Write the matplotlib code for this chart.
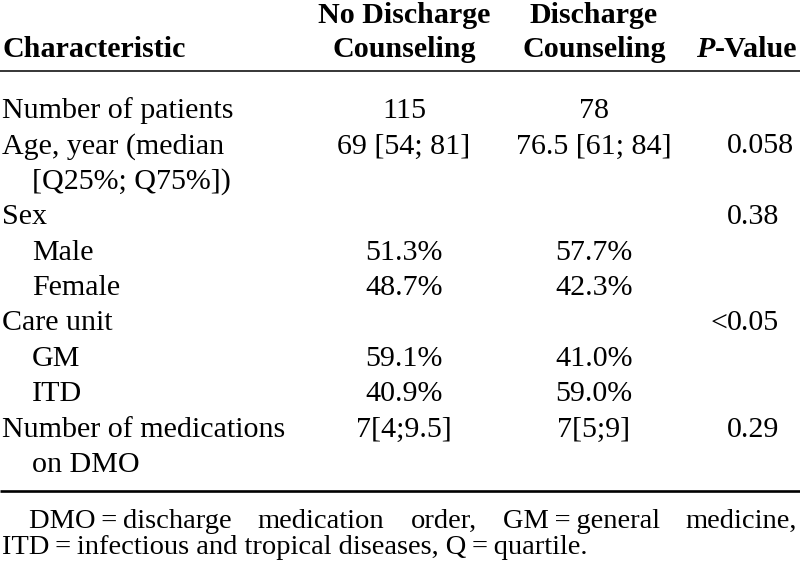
import matplotlib
matplotlib.use("Agg")
import matplotlib.pyplot as plt

plt.rcParams['font.family'] = ['Liberation Serif', 'DejaVu Serif']

# ---- table content ----
header_char = "Characteristic"
header_col1 = ["No Discharge", "Counseling"]
header_col2 = ["Discharge", "Counseling"]
header_p_italic = "P"
header_p_rest = "-Value"

row_labels = ["Number of patients", "Age, year (median", "[Q25%; Q75%])", "Sex",
              "Male", "Female", "Care unit", "GM", "ITD",
              "Number of medications", "on DMO"]
row_indent = [0, 0, 1, 0, 1, 1, 0, 1, 1, 0, 1]
no_counseling = ["115", "69 [54; 81]", "", "", "51.3%", "48.7%", "", "59.1%", "40.9%", "7[4;9.5]", ""]
counseling = ["78", "76.5 [61; 84]", "", "", "57.7%", "42.3%", "", "41.0%", "59.0%", "7[5;9]", ""]
p_values = ["", "0.058", "", "0.38", "", "", "<0.05", "", "", "0.29", ""]

footnote_line1 = ["DMO\u2009=\u2009discharge", "medication", "order,", "GM\u2009=\u2009general", "medicine,"]
footnote_line2 = "ITD\u2009=\u2009infectious and tropical diseases, Q\u2009=\u2009quartile."

# ---- layout (pixel coordinates) ----
W, H = 800, 570
FS = 21.6
FS_NOTE = 20.5
X_LABEL, X_INDENT = 2, 32
X_C1, X_C2 = 404, 594
X_P, X_PR = 727, 797
Y_H1, Y_H2 = 23, 57
Y_RULE1, Y_RULE2 = 70.5, 491
Y_ROW0, DY = 118, 35.4
Y_N1, Y_N2 = 528, 554
X_N1L, X_N2L = 29, 2

fig = plt.figure(figsize=(W / 100, H / 100), dpi=100)
fig.patch.set_facecolor("white")
ax = fig.add_axes([0, 0, 1, 1])
ax.set_xlim(0, W)
ax.set_ylim(H, 0)
ax.axis("off")
renderer = fig.canvas.get_renderer()

def txt(x, y, s, ha="left", **kw):
    kw.setdefault("fontsize", FS)
    return ax.text(x, y, s, ha=ha, va="baseline", color="black", **kw)

# header
txt(X_LABEL, Y_H2, header_char, fontweight="bold")
txt(X_C1, Y_H1, header_col1[0], ha="center", fontweight="bold")
txt(X_C1, Y_H2, header_col1[1], ha="center", fontweight="bold")
txt(X_C2, Y_H1, header_col2[0], ha="center", fontweight="bold")
txt(X_C2, Y_H2, header_col2[1], ha="center", fontweight="bold")
t_rest = txt(X_PR, Y_H2, header_p_rest, ha="right", fontweight="bold")
w_rest = t_rest.get_window_extent(renderer).width
txt(X_PR - w_rest, Y_H2, header_p_italic, ha="right", fontweight="bold", fontstyle="italic")

# rules
ax.plot([0, W], [Y_RULE1, Y_RULE1], color="black", lw=1.1, solid_capstyle="butt")
ax.plot([0, W], [Y_RULE2, Y_RULE2], color="black", lw=1.9, solid_capstyle="butt")

# body rows
for i, lab in enumerate(row_labels):
    y = Y_ROW0 + DY * i
    txt(X_INDENT if row_indent[i] else X_LABEL, y, lab)
    if no_counseling[i]:
        txt(X_C1, y, no_counseling[i], ha="center")
    if counseling[i]:
        txt(X_C2, y, counseling[i], ha="center")
    p = p_values[i]
    if p:
        k = 0
        while k < len(p) and not p[k].isdigit():
            k += 1
        if k:
            txt(X_P, y, p[:k], ha="right")
        txt(X_P, y, p[k:], ha="left")

# footnote, line 1 justified
pieces = [txt(0, Y_N1, s, fontsize=FS_NOTE) for s in footnote_line1]
widths = [t.get_window_extent(renderer).width for t in pieces]
gap = (X_PR - X_N1L - sum(widths)) / (len(pieces) - 1)
x = X_N1L
for t, w in zip(pieces, widths):
    t.set_x(x)
    x += w + gap
txt(X_N2L, Y_N2, footnote_line2, fontsize=FS_NOTE)

fig.savefig("out.png", dpi=100, facecolor="white")
